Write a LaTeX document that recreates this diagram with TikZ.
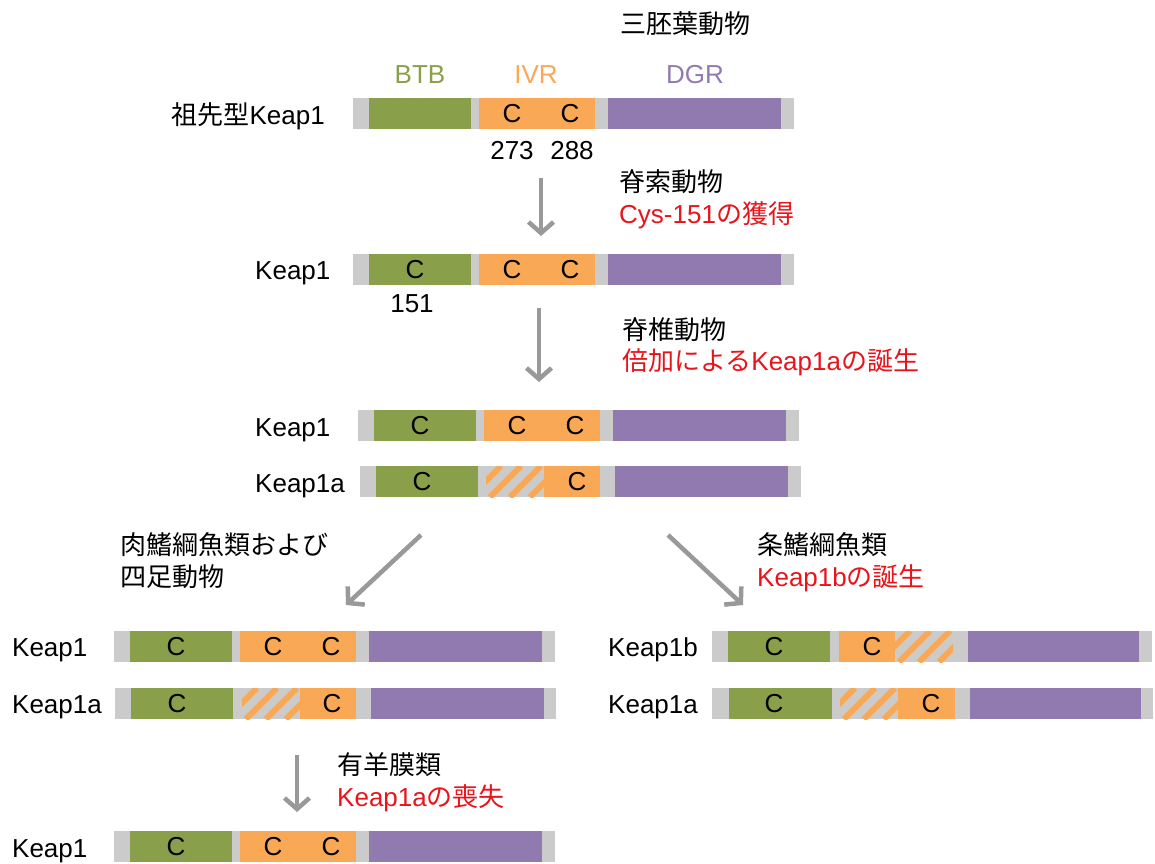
\documentclass[tikz,border=0pt]{standalone}
\usepackage{fontspec}
\setmainfont{Liberation Sans}
\newfontfamily\jp{Noto Sans CJK JP}
\usetikzlibrary{arrows.meta}
\definecolor{kgreen}{HTML}{8A9F4A}
\definecolor{korange}{HTML}{F9A856}
\definecolor{kpurple}{HTML}{917AB0}
\definecolor{kgray}{HTML}{CBCBCB}
\definecolor{arrgray}{HTML}{999999}
\definecolor{kred}{HTML}{E8141B}
\tikzset{
  lbl/.style={inner sep=0pt, font=\fontsize{26}{30}\selectfont, anchor=base west},
  redlbl/.style={lbl, text=kred},
  cys/.style={inner sep=0pt, font=\fontsize{26}{30}\selectfont, anchor=base},
  arr/.style={draw=arrgray, line width=4.5pt, -{Straight Barb[length=11pt,width=25pt]}},
}
% bar: y, gray0, gray1, green0, green1, purple0, purple1
\newcommand\kbar[7]{%
  \fill[kgray] (#2,#1) rectangle (#3,#1+31);
  \fill[kgreen] (#4,#1) rectangle (#5,#1+31);
  \fill[kpurple] (#6,#1) rectangle (#7,#1+31);
}
% orange segment: y, x0, x1
\newcommand\korg[3]{\fill[korange] (#2,#1) rectangle (#3,#1+31);}
% hatched segment: y, x0, x1
\newcommand\khatch[3]{%
  \begin{scope}
    \clip (#2,#1) rectangle (#3,#1+31);
    \fill[kgray] (#2,#1) rectangle (#3,#1+31);
    \foreach \k in {-2,...,4}{
      \draw[korange, line width=5.8pt] (#2+\k*20+4,#1+31) -- (#2+\k*20+35,#1);
    }
  \end{scope}
}
% C letter: name, x, y(bar top)
\newcommand\kc[3]{\node[cys] (#1) at (#2,#3+24.5) {C};}
\begin{document}
\begin{tikzpicture}[x=1pt,y=-1pt]
\useasboundingbox (0,0) rectangle (1155,863);

% header
\node[lbl] (tri) at (620,33.5) {\jp 三胚葉動物};
\node[cys, text=kgreen] (btb) at (420,83.5) {BTB};
\node[cys, text=korange] (ivr) at (536,83.5) {IVR};
\node[cys, text=kpurple] (dgr) at (695,83.5) {DGR};

% bar 1 ancestral
\node[lbl, anchor=base east] (anc) at (325,124.5) {{\jp 祖先型}Keap1};
\kbar{98}{353}{794}{369}{471}{608}{781}
\korg{98}{479}{595}
\kc{c1a}{512}{98}\kc{c1b}{570}{98}
\node[cys] (n273) at (512,159.5) {273};
\node[cys] (n288) at (572,159.5) {288};

% arrow 1
\coordinate (a1s) at (541,178);
\coordinate (a1e) at (541,236);
\draw[arr] (a1s) -- (a1e);
\node[lbl] (t1a) at (619,191.5) {\jp 脊索動物};
\node[redlbl] (t1b) at (619,223) {Cys-151{\jp の獲得}};

% bar 2
\node[lbl] (k2) at (255,279.5) {Keap1};
\kbar{254}{353}{794}{369}{471}{608}{781}
\korg{254}{479}{595}
\kc{c2a}{415}{254}\kc{c2b}{512}{254}\kc{c2c}{570}{254}
\node[cys] (n151) at (412,312.5) {151};

% arrow 2
\coordinate (a2s) at (539,308);
\coordinate (a2e) at (539,382);
\draw[arr] (a2s) -- (a2e);
\node[lbl] (t2a) at (622,339.5) {\jp 脊椎動物};
\node[redlbl] (t2b) at (622,370) {{\jp 倍加による}Keap1a{\jp の誕生}};

% bar 3 and 4
\node[lbl] (k3) at (255,436.5) {Keap1};
\kbar{410}{358}{799}{374}{476}{613}{786}
\korg{410}{484}{600}
\kc{c3a}{420}{410}\kc{c3b}{517}{410}\kc{c3c}{575}{410}
\node[lbl] (k4) at (255,492.5) {Keap1a};
\kbar{466}{360}{801}{376}{478}{615}{788}
\khatch{466}{486}{544}
\korg{466}{544}{600}
\kc{c4a}{422}{466}\kc{c4b}{577}{466}

% diagonal arrows
\coordinate (a3s) at (421,535);
\coordinate (a3e) at (346,605);
\draw[arr] (a3s) -- (a3e);
\coordinate (a4s) at (668,535);
\coordinate (a4e) at (743,605);
\draw[arr] (a4s) -- (a4e);
\node[lbl] (t3a) at (120,554.5) {\jp 肉鰭綱魚類および};
\node[lbl] (t3b) at (120,586.5) {\jp 四足動物};
\node[lbl] (t4a) at (757,554.5) {\jp 条鰭綱魚類};
\node[redlbl] (t4b) at (757,586.5) {Keap1b{\jp の誕生}};

% left bars
\node[lbl] (k5) at (12,656.5) {Keap1};
\kbar{631}{114}{555}{130}{232}{369}{542}
\korg{631}{240}{356}
\kc{c5a}{176}{631}\kc{c5b}{273}{631}\kc{c5c}{331}{631}
\node[lbl] (k6) at (12,713.5) {Keap1a};
\kbar{688}{115}{556}{131}{233}{371}{544}
\khatch{688}{242}{300}
\korg{688}{300}{356}
\kc{c6a}{177}{688}\kc{c6b}{332}{688}

% right bars
\node[lbl] (k7) at (608,656.5) {Keap1b};
\kbar{631}{712}{1152}{728}{830}{968}{1139}
\korg{631}{839}{895}
\khatch{631}{895}{953}
\kc{c7a}{774}{631}\kc{c7b}{872}{631}
\node[lbl] (k8) at (608,713.5) {Keap1a};
\kbar{688}{712}{1153}{729}{832}{970}{1141}
\khatch{688}{840}{898}
\korg{688}{898}{955}
\kc{c8a}{774}{688}\kc{c8b}{931}{688}

% arrow 5
\coordinate (a5s) at (297,755);
\coordinate (a5e) at (297,812);
\draw[arr] (a5s) -- (a5e);
\node[lbl] (t5a) at (337,774.5) {\jp 有羊膜類};
\node[redlbl] (t5b) at (337,806.5) {Keap1a{\jp の喪失}};

% bottom bar
\node[lbl] (k9) at (12,857) {Keap1};
\kbar{831}{114}{555}{130}{232}{369}{542}
\korg{831}{240}{356}
\kc{c9a}{176}{831}\kc{c9b}{273}{831}\kc{c9c}{331}{831}
\end{tikzpicture}
\end{document}
